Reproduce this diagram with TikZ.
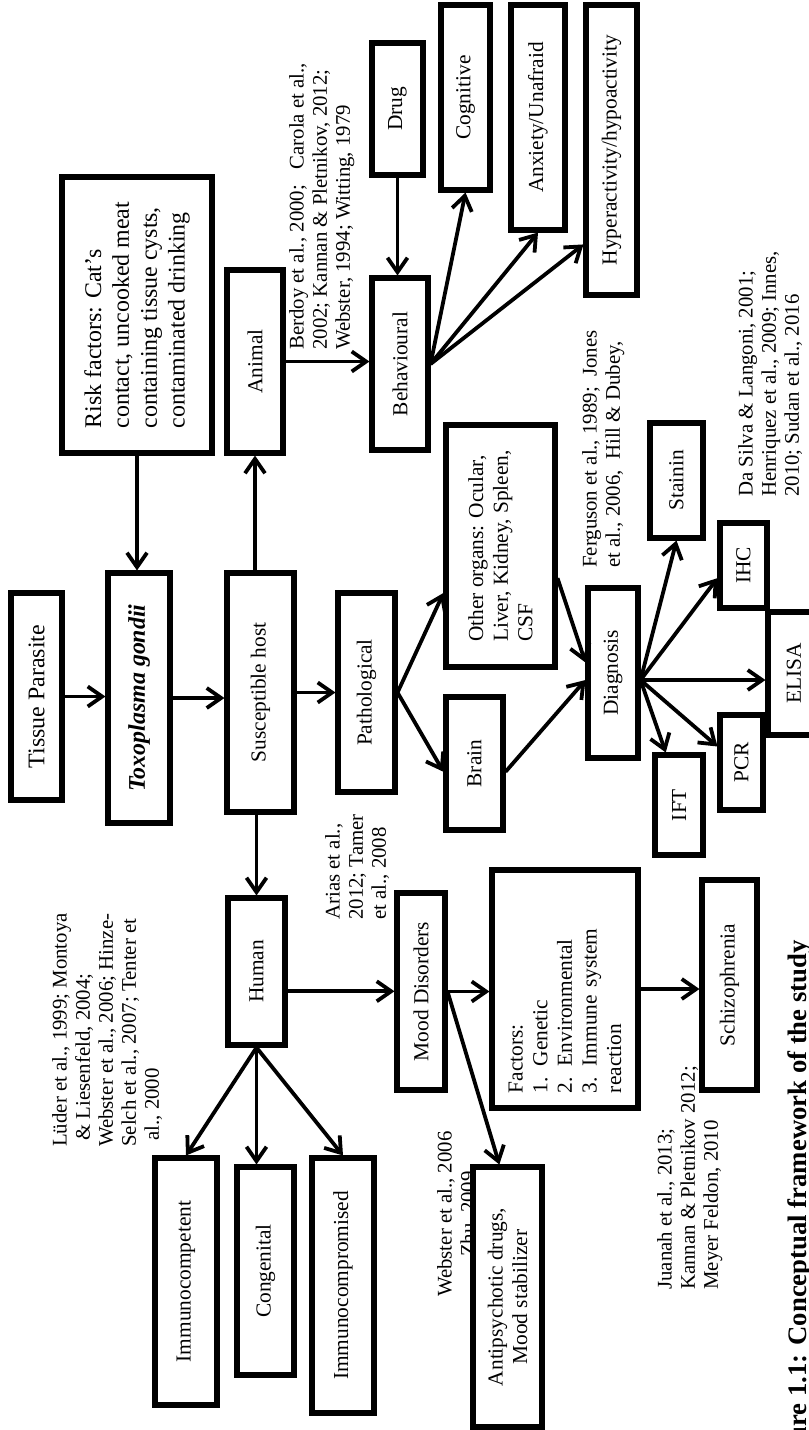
\documentclass[tikz,border=0pt]{standalone}
\usepackage{fontspec}
\setmainfont{Liberation Serif}
\usetikzlibrary{arrows.meta,calc}
\tikzset{
  box/.style={draw,line width=3.6pt,fill=white,rotate=90,inner sep=1pt,align=center,font=\fontsize{15.2}{17.5}\selectfont},
  bigbox/.style={box,font=\fontsize{17}{19.8}\selectfont},
  sz/.style 2 args={minimum height=#1*0.025cm,minimum width=#2*0.025cm},
  cite/.style={rotate=90,anchor=north west,inner sep=0pt,align=left,font=\fontsize{14.8}{16.4}\selectfont},
  figcap/.style={rotate=90,anchor=base east,inner sep=0pt,font=\fontsize{19}{22}\selectfont\bfseries},
  arr/.style={line width=2.7pt,-{Straight Barb[length=3.6mm,width=5mm]}}
}

\begin{document}
\begin{tikzpicture}[x=0.025cm,y=-0.025cm]
  \fill[white] (0,0) rectangle (809,1430);
  \useasboundingbox (0,0) rectangle (809,1430);

  % — Citations (drawn first, boxes sit on top)
  \node[cite] (cberdoy) at (289,350) {Berdoy et al., 2000;\ \ \ Carola et al.,\\2002; Kannan \& Pletnikov, 2012;\\Webster, 1994; Witting, 1979};
  \node[cite] (cfergus) at (582,568) {Ferguson et al., 1989;\ \ Jones\\et al., 2006,\ \ Hill \& Dubey,};
  \node[cite] (csilva) at (738,497) {Da Silva \& Langoni, 2001;\\Henriquez et al., 2009; Innes,\\2010; Sudan et al., 2016};
  \node[cite] (cluder) at (52,1147) {Lüder et al., 1999; Montoya\\\hspace{0.3em}\& Liesenfeld, 2004;\\Webster et al., 2006; Hinze-\\Selch et al., 2007; Tenter et\\\hspace{0.3em}al., 2000};
  \node[cite] (carias) at (325,920) {Arias et al.,\\2012; Tamer\\et al., 2008};
  \node[cite,align=center] (cwebster) at (437,1297) {Webster et al., 2006\\Zhu, 2009};
  \node[cite] (cjuanah) at (657,1290) {Juanah et al., 2013;\\Kannan \& Pletnikov 2012;\\Meyer Feldon, 2010};

  % — Parasite, risk factors and host
  \node[bigbox,sz={51}{207}] (tissue) at (36.5,696.5) {Tissue Parasite};
  \node[bigbox,sz={62}{250},font=\fontsize{17}{19.8}\selectfont\bfseries\itshape] (toxo) at (139,698) {Toxoplasma gondii};
  \node[bigbox,sz={150}{276},align=left] (risk) at (137,315) {Risk factors: Cat’s\\contact, uncooked meat\\containing tissue cysts,\\contaminated drinking};
  \node[box,sz={67}{239}] (host) at (260.5,692.5) {Susceptible host};

  % — Animal branch
  \node[box,sz={56}{183}] (animal) at (255,361.5) {Animal};
  \node[box,sz={56}{172}] (behav) at (400,364) {Behavioural};
  \node[box,sz={51}{132}] (drug) at (397.5,109) {Drug};
  \node[box,sz={49}{185}] (cogn) at (465.5,97.5) {Cognitive};
  \node[box,sz={54}{225}] (anx) at (538,117.5) {Anxiety/Unafraid};
  \node[box,sz={51}{290}] (hyper) at (611.5,150) {Hyperactivity/hypoactivity};

  % — Pathology and diagnosis
  \node[box,sz={57}{199}] (patho) at (366.5,692.5) {Pathological};
  \node[box,sz={109}{242},align=left] (other) at (500.5,546) {Other organs: Ocular,\\Liver, Kidney, Spleen,\\CSF};
  \node[box,sz={57}{133}] (brain) at (474.5,763.5) {Brain};
  \node[box,sz={50}{170}] (diag) at (613,673) {Diagnosis};
  \node[box,sz={53}{115}] (stain) at (676.5,480.5) {Stainin};
  \node[box,sz={47}{85}] (ihc) at (743.5,565.5) {IHC};
  \node[box,sz={52}{123}] (elisa) at (794,673.5) {ELISA};
  \node[box,sz={43}{95}] (pcr) at (741.5,762.5) {PCR};
  \node[box,sz={48}{100}] (ift) at (679,805) {IFT};

  % — Human branch
  \node[box,sz={57}{147}] (human) at (256.5,971.5) {Human};
  \node[box,sz={62}{247}] (icompet) at (186,1281.5) {Immunocompetent};
  \node[box,sz={57}{208}] (congen) at (265.5,1271) {Congenital};
  \node[box,sz={62}{255}] (icompro) at (343,1285.5) {Immunocompromised};
  \node[box,sz={48}{197}] (mood) at (421,991.5) {Mood Disorders};
  \node[box,sz={146}{238},align=left,text width=5.2cm] (factors) at (565,989) {Factors:\\1. Genetic\\2. Environmental\\3. Immune system\\reaction};
  \node[box,sz={55}{210}] (schizo) at (729.5,985) {Schizophrenia};
  \node[box,sz={69}{260}] (antipsy) at (507.5,1297) {Antipsychotic drugs,\\Mood stabilizer};

  % — Connectors
  \draw[arr] (tissue.south) -- (tissue.south -| toxo.north);
  \draw[arr] (risk.west) -- (risk.west |- toxo.east);
  \draw[arr] (toxo.south) -- (toxo.south -| host.north);
  \draw[arr] (animal.west |- host.east) -- (animal.west);
  \draw[arr] (human.east |- host.west) -- (human.east);
  \draw[arr] (host.south) -- (host.south -| patho.north);
  \draw[arr] (animal.south) -- (animal.south -| behav.north);
  \draw[arr] (drug.west) -- (drug.west |- behav.east);
  \draw[arr] (behav.south) -- (cogn.west);
  \draw[arr] (behav.south) -- (anx.west);
  \draw[arr] (behav.south) -- ($(hyper.north west)!0.18!(hyper.north east)$);
  \draw[arr] (patho.south) -- ($(other.north west)!0.31!(other.north east)$);
  \draw[arr] (patho.south) -- ($(brain.north west)!0.44!(brain.north east)$);
  \draw[arr] ($(brain.south west)!0.44!(brain.south east)$) -- ($(diag.north west)!0.46!(diag.north east)$);
  \draw[arr] ($(other.south west)!0.37!(other.south east)$) -- ($(diag.north west)!0.56!(diag.north east)$);
  \coordinate (dout) at ($(diag.south west)!0.46!(diag.south east)$);
  \draw[arr] (dout) -- (stain.west);
  \draw[arr] (dout) -- ($(ihc.north west)!0.36!(ihc.north east)$);
  \draw[arr] (dout) -- (dout -| elisa.north);
  \draw[arr] (dout) -- ($(pcr.north west)!0.66!(pcr.north east)$);
  \draw[arr] (dout) -- ($(ift.north east)!0.25!(ift.south east)$);
  \draw[arr] (human.west) -- (icompet.east);
  \draw[arr] (human.west) -- (human.west |- congen.east);
  \draw[arr] (human.west) -- (icompro.east);
  \coordinate (hout) at ($(human.south west)!0.37!(human.south east)$);
  \draw[arr] (hout) -- (hout -| mood.north);
  \draw[arr] (mood.south) -- (mood.south -| factors.north);
  \draw[arr] (factors.south) -- (factors.south -| schizo.north);
  \draw[arr] (mood.south) -- ($(antipsy.north east)!0.39!(antipsy.south east)$);

  % — Caption
  \node[figcap] (cap) at (806,940) {Figure 1.1: Conceptual framework of the study};
\end{tikzpicture}
\end{document}
